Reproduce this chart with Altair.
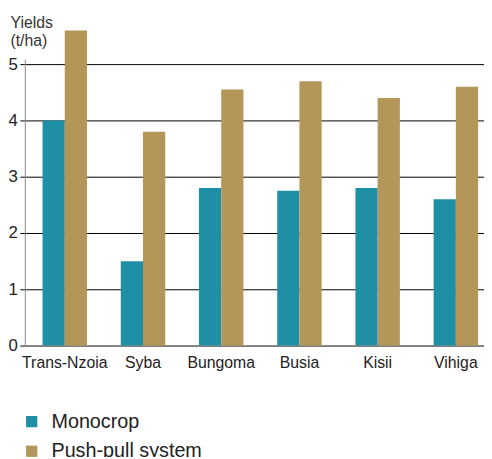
import altair as alt
import pandas as pd

regions = ["Trans-Nzoia", "Syba", "Bungoma", "Busia", "Kisii", "Vihiga"]
monocrop = [4.0, 1.5, 2.8, 2.75, 2.8, 2.6]
push_pull = [5.6, 3.8, 4.55, 4.7, 4.4, 4.6]
series = ["Monocrop", "Push-pull system"]
colors = ["#1f8fa6", "#b39658"]
y_ticks = [0, 1, 2, 3, 4, 5]

rows = []
for r, m, p in zip(regions, monocrop, push_pull):
    rows.append({"region": r, "series": series[0], "value": m})
    rows.append({"region": r, "series": series[1], "value": p})
df = pd.DataFrame(rows)

font = "Liberation Sans"

chart = alt.Chart(df).mark_bar(clip=False).encode(
    x=alt.X(
        "region:N",
        sort=regions,
        scale=alt.Scale(paddingInner=0.432, paddingOuter=0.1515, align=0.75),
        axis=alt.Axis(
            title=None, labelAngle=0, ticks=False, domainColor="#888888",
            labelFontSize=16, labelPadding=9, labelColor="#222222",
            labelFont=font, grid=False, labelBaseline="top",
        ),
    ),
    xOffset=alt.XOffset("series:N", sort=series),
    y=alt.Y(
        "value:Q",
        scale=alt.Scale(domain=[0, 5.09], nice=False),
        axis=alt.Axis(
            values=y_ticks, format="d", grid=True, gridColor="#000000",
            gridWidth=1, tickColor="#000000", tickSize=5, domainColor="#888888",
            labelFontSize=17, labelFont=font, labelColor="#222222",
            labelAlign="left", labelPadding=12,
            title=["Yields", "(t/ha)"], titleAngle=0, titleAlign="left",
            titleBaseline="top", titleX=-15, titleY=-45, titleFontSize=16,
            titleFontWeight="normal", titleColor="#333333", titleFont=font,
            titleLineHeight=18,
        ),
    ),
    color=alt.Color(
        "series:N",
        sort=series,
        scale=alt.Scale(domain=series, range=colors),
        legend=alt.Legend(
            title=None, orient="none", legendX=-3, legendY=357,
            direction="vertical", symbolType="square", symbolSize=130,
            symbolStrokeWidth=0, labelFontSize=20, labelFont=font,
            labelColor="#222222", rowPadding=10, labelOffset=10, padding=0,
        ),
    ),
).properties(
    width=465,
    height=290,
    autosize=alt.AutoSizeParams(type="none"),
    padding={"left": 17, "top": 49, "right": 0, "bottom": 110},
).configure_view(stroke=None)

chart.save("out.html", embed_options={"renderer": "svg", "actions": False})
